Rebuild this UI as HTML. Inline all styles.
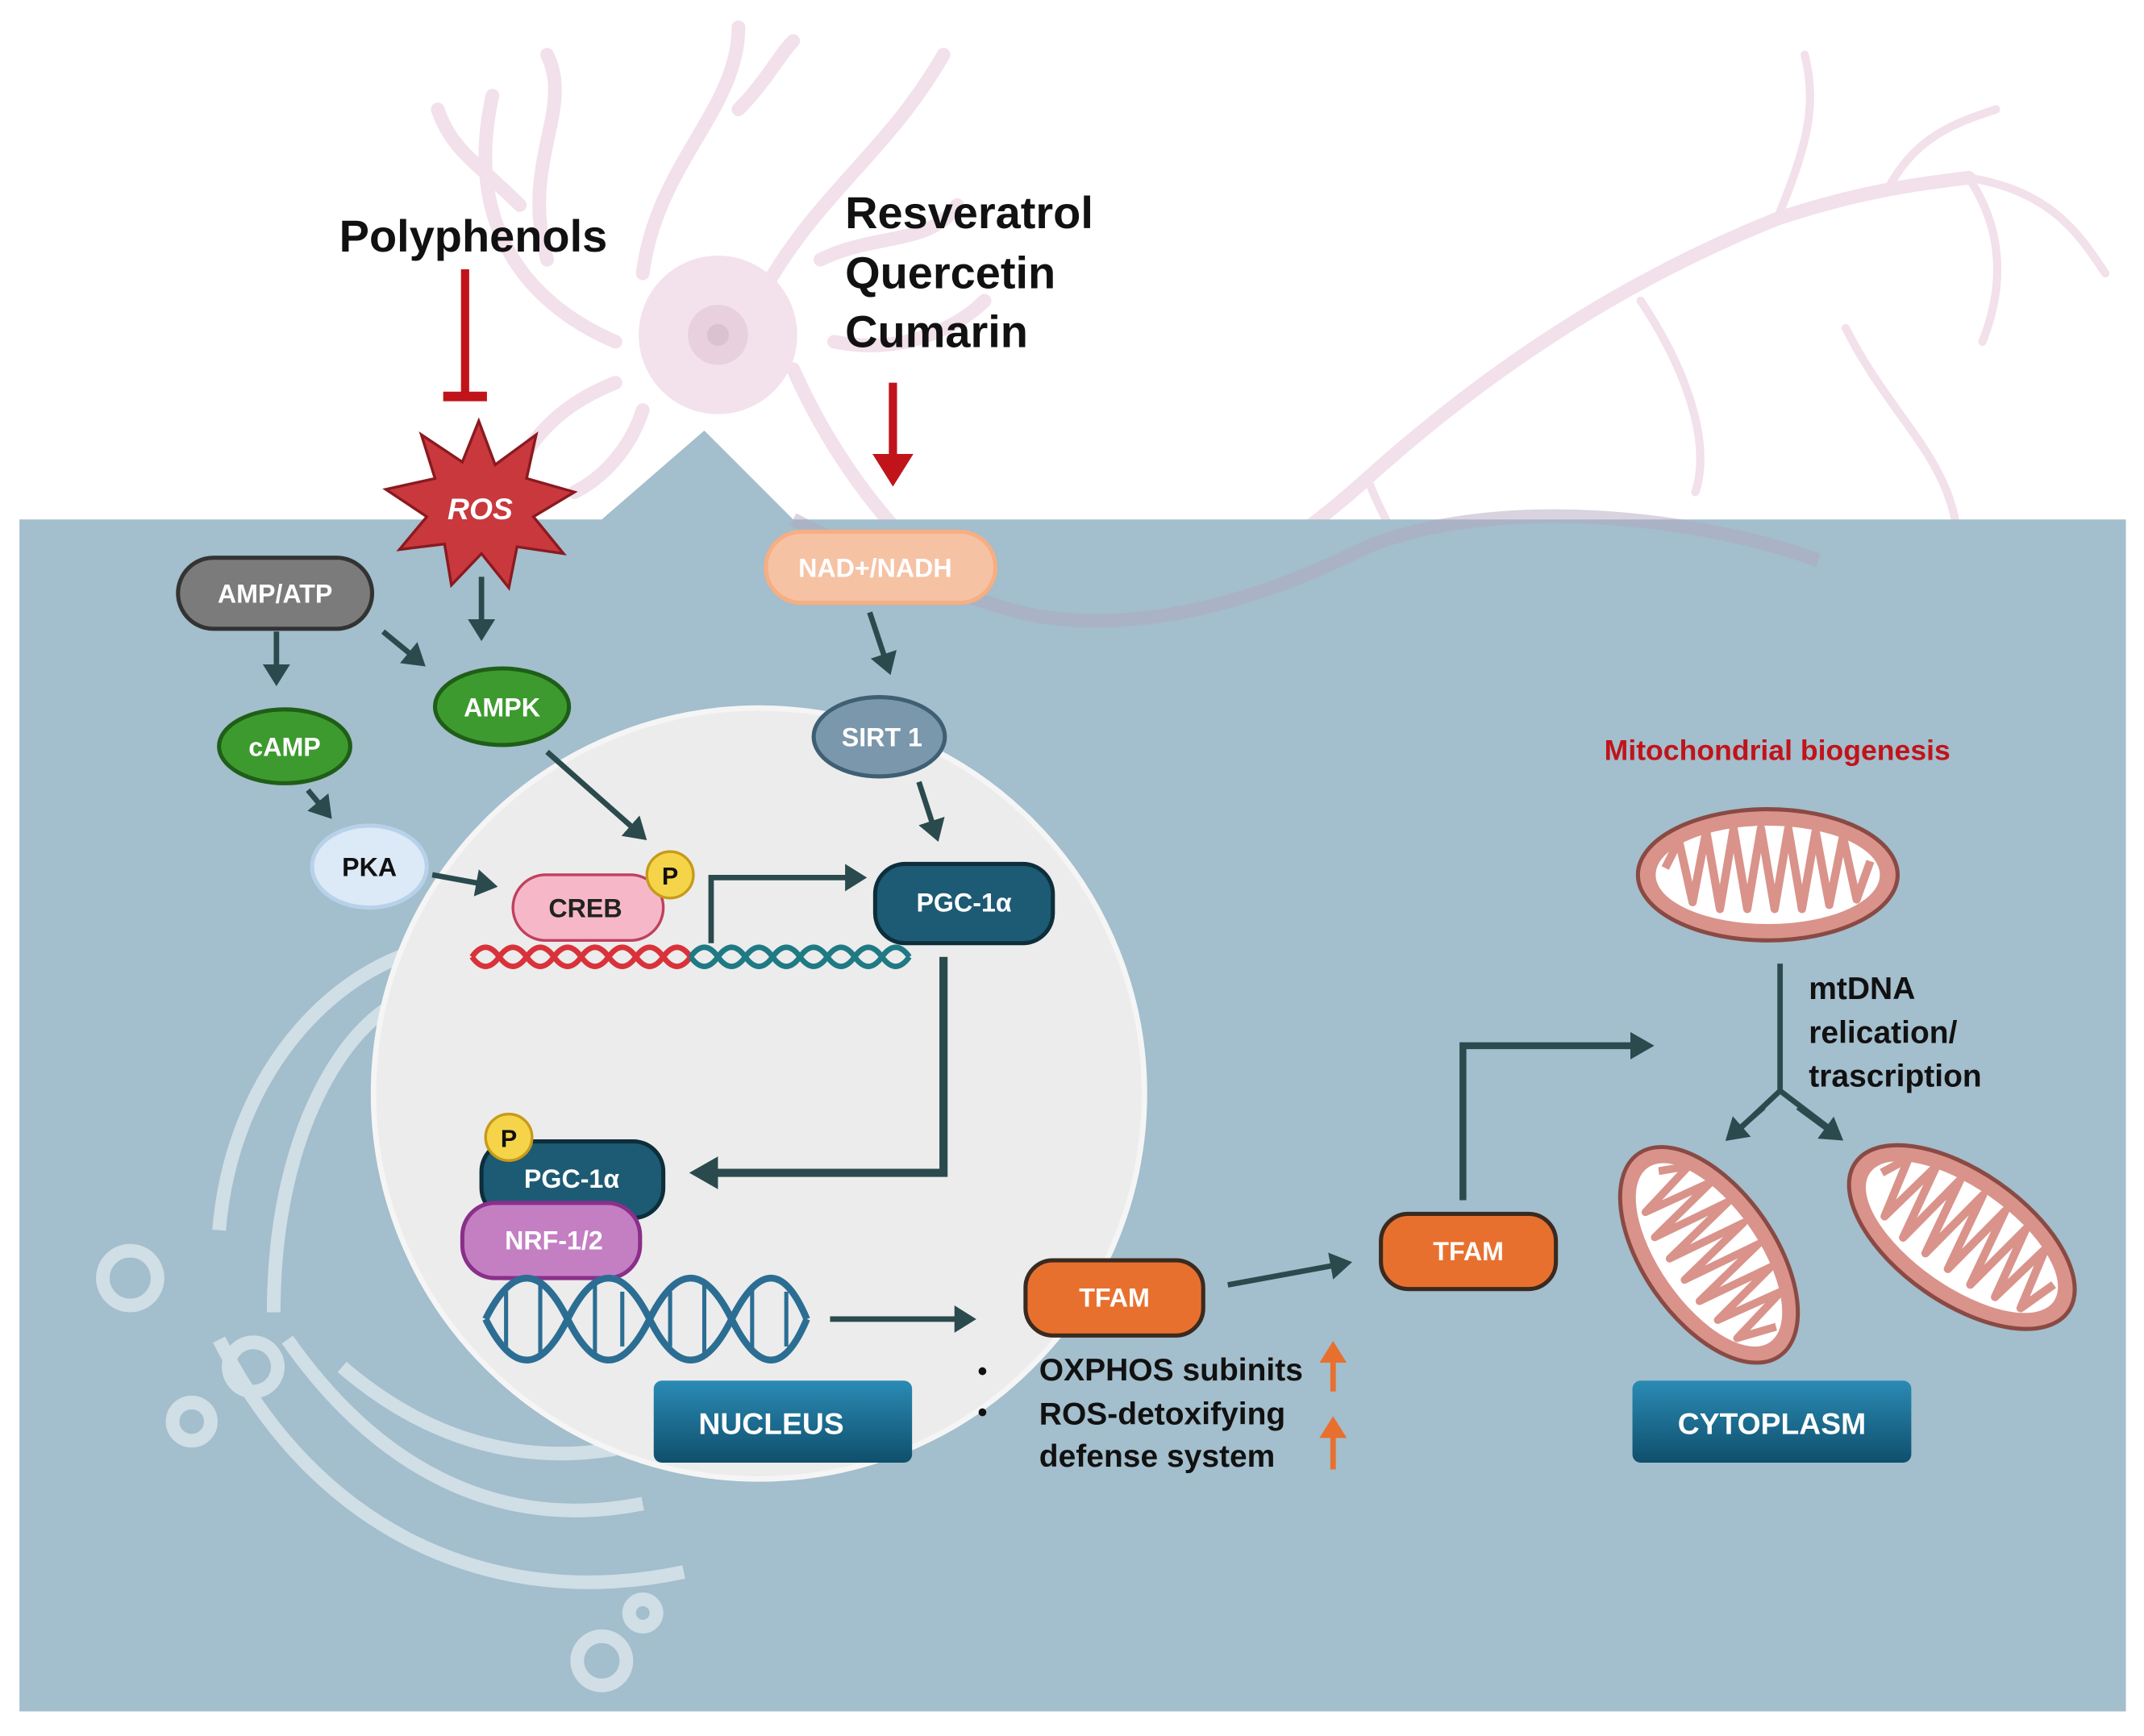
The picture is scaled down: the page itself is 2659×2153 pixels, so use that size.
<!DOCTYPE html>
<html><head><meta charset="utf-8"><style>
html,body{margin:0;padding:0;background:#fff;}
svg{display:block;}
text{font-family:"Liberation Sans",Arial,sans-serif;font-weight:bold;}
</style></head><body>
<svg width="2659" height="2153" viewBox="0 0 1568 1270" xmlns="http://www.w3.org/2000/svg">
<defs>
<marker id="ah" markerWidth="5" markerHeight="5" refX="3" refY="2.5" orient="auto" markerUnits="strokeWidth"><path d="M0,0 L4,2.5 L0,5 Z" fill="#2b4a4d"/></marker>
<marker id="ah2" markerWidth="4" markerHeight="4" refX="2.5" refY="2" orient="auto" markerUnits="strokeWidth"><path d="M0,0 L3.5,2 L0,4 Z" fill="#2b4a4d"/></marker>
<marker id="ahr" markerWidth="5" markerHeight="5" refX="3" refY="2.5" orient="auto" markerUnits="strokeWidth"><path d="M0,0 L4,2.5 L0,5 Z" fill="#c0141a"/></marker>
<marker id="aho" markerWidth="5" markerHeight="5" refX="3" refY="2.5" orient="auto" markerUnits="strokeWidth"><path d="M0,0 L4,2.5 L0,5 Z" fill="#e8702e"/></marker>
<linearGradient id="btn" x1="0" y1="0" x2="0" y2="1"><stop offset="0" stop-color="#2a8bb5"/><stop offset="1" stop-color="#0f4f6c"/></linearGradient>
<g id="mito">
<ellipse cx="0" cy="0" rx="95" ry="48" fill="#d9938a" stroke="#8a4a44" stroke-width="3"/>
<ellipse cx="0" cy="0" rx="82" ry="36" fill="#fff"/>
<path d="M-75,-5 L-65,-25 L-55,20 L-45,-32 L-35,25 L-25,-34 L-15,25 L-5,-34 L5,25 L15,-34 L25,25 L35,-32 L45,22 L55,-28 L65,18 L75,-10" stroke="#d9938a" stroke-width="6" fill="none" stroke-linejoin="round"/>
</g>
</defs>
<rect width="1568" height="1270" fill="#fff"/>
<!-- neuron -->
<g stroke="#f2e0ea" fill="none" stroke-linecap="round">
<path d="M450,250 C380,220 340,160 360,70 M400,190 C380,120 420,80 400,40 M470,200 C480,120 540,80 540,20 M560,210 C600,140 650,110 690,40 M600,190 C640,170 680,180 700,150 M610,250 C660,260 700,240 720,220 M450,280 C400,300 380,330 360,380 M470,300 C460,330 440,350 420,360 M380,150 C350,120 330,110 320,80 M540,80 C560,60 570,40 580,30" stroke-width="10"/>
<path d="M580,270 C620,360 680,420 720,440 C800,480 900,440 1000,350 C1100,260 1200,200 1300,160 C1360,140 1400,135 1440,130" stroke-width="10"/>
<path d="M1300,160 C1320,110 1330,80 1320,40 M1380,140 C1400,100 1430,90 1460,80 M1440,130 C1460,160 1470,200 1450,250 M1440,130 C1500,140 1520,170 1540,200 M1200,220 C1240,280 1250,330 1240,360 M1350,240 C1380,300 1420,330 1430,380 M1000,350 C1020,400 1040,420 1050,450" stroke-width="6"/>
</g>
<circle cx="525" cy="245" r="58" fill="#f3e2ec"/>
<circle cx="525" cy="245" r="22" fill="#e8d0de"/>
<circle cx="525" cy="245" r="8" fill="#dcc2d1"/>
<!-- panel -->
<path d="M14,380 L440,380 L515,315 L580,380 L1555,380 L1555,1252 L14,1252 Z" fill="#a3becc"/>
<path d="M580,380 C620,400 680,430 720,440 C800,470 900,450 1000,400 C1100,360 1250,380 1330,410" stroke="#b2a8bd" stroke-width="10" fill="none" opacity="0.5"/>
<!-- ER -->
<g stroke="#dce6ec" stroke-width="10" fill="none" opacity="0.8">
<path d="M160,900 C170,780 250,700 330,690"/>
<path d="M200,960 C200,820 260,740 300,730"/>
<path d="M160,980 C230,1120 360,1180 500,1150"/>
<path d="M210,980 C280,1080 370,1120 470,1100"/>
<path d="M250,1000 C320,1060 390,1070 450,1060"/>
<circle cx="95" cy="935" r="20"/><circle cx="185" cy="1000" r="18"/><circle cx="140" cy="1040" r="14"/><circle cx="440" cy="1215" r="18"/><circle cx="470" cy="1180" r="10"/>
</g>
<!-- nucleus -->
<circle cx="555" cy="800" r="282" fill="#ececec" stroke="#f5f5f5" stroke-width="4"/>
<!-- texts top -->
<text x="346" y="184" font-size="33" text-anchor="middle" fill="#111">Polyphenols</text>
<text x="618" y="167" font-size="33" fill="#111">Resveratrol</text>
<text x="618" y="211" font-size="33" fill="#111">Quercetin</text>
<text x="618" y="254" font-size="33" fill="#111">Cumarin</text>
<path d="M340,197 L340,288" stroke="#c0141a" stroke-width="6"/>
<path d="M324,290 L356,290" stroke="#c0141a" stroke-width="7"/>
<path d="M653,280 L653,350" stroke="#c0141a" stroke-width="6" marker-end="url(#ahr)"/>
<!-- ROS -->
<polygon points="350,308 362,340 392,318 385,350 420,360 390,378 412,405 378,400 372,430 352,405 330,428 325,398 292,402 312,378 282,358 318,350 308,318 338,338" fill="#c8383d" stroke="#8a1a20" stroke-width="2"/>
<text x="351" y="380" font-size="22" font-style="italic" font-weight="normal" fill="#fff" text-anchor="middle">ROS</text>
<!-- arrows -->
<g stroke="#2b4a4d" stroke-width="4" fill="none">
<path d="M202,462 L202,498" marker-end="url(#ah)"/>
<path d="M280,462 L308,485" marker-end="url(#ah)"/>
<path d="M352,422 L352,465" marker-end="url(#ah)"/>
<path d="M225,578 L240,596" marker-end="url(#ah)"/>
<path d="M316,640 L360,648" marker-end="url(#ah)"/>
<path d="M400,550 L470,612" marker-end="url(#ah)"/>
<path d="M636,448 L650,490" marker-end="url(#ah)"/>
<path d="M672,572 L685,612" marker-end="url(#ah)"/>
<path d="M520,690 L520,642 L630,642" marker-end="url(#ah)"/>
<path d="M690,700 L690,858 L510,858" stroke-width="6" marker-end="url(#ah2)"/>
<path d="M607,965 L710,965" marker-end="url(#ah)"/>
<path d="M898,940 L985,924" marker-end="url(#ah)"/>
<path d="M1070,878 L1070,765 L1205,765" stroke-width="5" marker-end="url(#ah2)"/>
<path d="M1302,705 L1302,798 M1302,798 L1268,830 M1302,798 L1344,830" stroke-width="4"/>
<path d="M1290,810 L1265,832" marker-end="url(#ah)"/>
<path d="M1315,810 L1345,832" marker-end="url(#ah)"/>
</g>
<!-- nodes -->
<rect x="130" y="408" width="142" height="52" rx="26" fill="#7b7b7b" stroke="#333" stroke-width="3"/>
<text x="201" y="441" font-size="19" fill="#fff" text-anchor="middle">AMP/ATP</text>
<rect x="560" y="389" width="168" height="52" rx="26" fill="#f6c2a4" stroke="#f7ae82" stroke-width="3"/>
<text x="640" y="422" font-size="19" fill="#fff" text-anchor="middle">NAD+/NADH</text>
<ellipse cx="367" cy="517" rx="49" ry="28" fill="#3d9a2f" stroke="#1f5e18" stroke-width="3"/>
<text x="367" y="524" font-size="19" fill="#fff" text-anchor="middle">AMPK</text>
<ellipse cx="208" cy="546" rx="48" ry="27" fill="#3d9a2f" stroke="#1f5e18" stroke-width="3"/>
<text x="208" y="553" font-size="19" fill="#fff" text-anchor="middle">cAMP</text>
<ellipse cx="270" cy="634" rx="42" ry="30" fill="#dce9f6" stroke="#b8d1ea" stroke-width="3"/>
<text x="270" y="641" font-size="19" fill="#111" text-anchor="middle">PKA</text>
<ellipse cx="643" cy="539" rx="48" ry="29" fill="#7b97ab" stroke="#3e5f74" stroke-width="3"/>
<text x="645" y="546" font-size="19" fill="#fff" text-anchor="middle">SIRT 1</text>
<!-- DNA top -->
<g fill="none" stroke-width="4">
<path d="M345,700 q10,-14 20,0 t20,0 t20,0 t20,0 t20,0 t20,0 t20,0 t20,0" stroke="#d9323a"/>
<path d="M345,700 q10,14 20,0 t20,0 t20,0 t20,0 t20,0 t20,0 t20,0 t20,0" stroke="#d9323a"/>
<path d="M505,700 q10,-14 20,0 t20,0 t20,0 t20,0 t20,0 t20,0 t20,0 t20,0" stroke="#1f7a84"/>
<path d="M505,700 q10,14 20,0 t20,0 t20,0 t20,0 t20,0 t20,0 t20,0 t20,0" stroke="#1f7a84"/>
</g>
<rect x="375" y="640" width="110" height="48" rx="24" fill="#f6b8c8" stroke="#c0405e" stroke-width="2"/>
<text x="428" y="671" font-size="19" font-weight="normal" fill="#222" text-anchor="middle">CREB</text>
<circle cx="490" cy="640" r="17" fill="#f6d44a" stroke="#c79a1a" stroke-width="2"/>
<text x="490" y="647" font-size="18" fill="#111" text-anchor="middle">P</text>
<rect x="640" y="632" width="130" height="58" rx="22" fill="#1d5a74" stroke="#0d2e3b" stroke-width="3"/>
<text x="705" y="667" font-size="19" fill="#fff" text-anchor="middle">PGC-1α</text>
<rect x="352" y="835" width="133" height="56" rx="22" fill="#1d5a74" stroke="#0d2e3b" stroke-width="3"/>
<text x="418" y="869" font-size="19" fill="#fff" text-anchor="middle">PGC-1α</text>
<circle cx="372" cy="832" r="17" fill="#f6d44a" stroke="#c79a1a" stroke-width="2"/>
<text x="372" y="839" font-size="18" fill="#111" text-anchor="middle">P</text>
<rect x="338" y="880" width="130" height="55" rx="24" fill="#c47fc2" stroke="#8a2f8a" stroke-width="3"/>
<text x="405" y="914" font-size="19" fill="#fff" text-anchor="middle">NRF-1/2</text>
<!-- DNA lower -->
<g fill="none" stroke="#2c6e93" stroke-width="5">
<path d="M355,965 q30,-60 60,0 t60,0 t60,0 t55,0"/>
<path d="M355,965 q30,60 60,0 t60,0 t60,0 t55,0"/>
<path d="M370,945 L370,985 M395,940 L395,990 M435,940 L435,990 M455,945 L455,985 M490,945 L490,985 M515,940 L515,990 M550,940 L550,990 M575,945 L575,985" stroke-width="3"/>
</g>
<rect x="478" y="1010" width="189" height="60" rx="6" fill="url(#btn)"/>
<text x="564" y="1049" font-size="22" fill="#fff" text-anchor="middle">NUCLEUS</text>
<rect x="1194" y="1010" width="204" height="60" rx="6" fill="url(#btn)"/>
<text x="1296" y="1049" font-size="22" fill="#fff" text-anchor="middle">CYTOPLASM</text>
<rect x="750" y="922" width="130" height="55" rx="20" fill="#e8702e" stroke="#3a2a20" stroke-width="3"/>
<text x="815" y="956" font-size="19" fill="#fff" text-anchor="middle">TFAM</text>
<rect x="1010" y="888" width="128" height="55" rx="20" fill="#e8702e" stroke="#3a2a20" stroke-width="3"/>
<text x="1074" y="922" font-size="19" fill="#fff" text-anchor="middle">TFAM</text>
<text x="715" y="1010" font-size="20" fill="#111">•</text>
<text x="715" y="1040" font-size="20" fill="#111">•</text>
<text x="760" y="1010" font-size="23" fill="#111">OXPHOS subinits</text>
<text x="760" y="1042" font-size="23" fill="#111">ROS-detoxifying</text>
<text x="760" y="1073" font-size="23" fill="#111">defense system</text>
<path d="M975,1018 L975,985" stroke="#e8702e" stroke-width="4" marker-end="url(#aho)"/>
<path d="M975,1075 L975,1040" stroke="#e8702e" stroke-width="4" marker-end="url(#aho)"/>
<!-- mito -->
<text x="1300" y="556" font-size="21" fill="#c0141a" text-anchor="middle">Mitochondrial biogenesis</text>
<use href="#mito" transform="translate(1293,640)"/>
<use href="#mito" transform="translate(1250,918) rotate(55) scale(0.95,1)"/>
<use href="#mito" transform="translate(1435,905) rotate(35) scale(1,1)"/>
<text x="1323" y="731" font-size="23" fill="#111">mtDNA</text>
<text x="1323" y="763" font-size="23" fill="#111">relication/</text>
<text x="1323" y="795" font-size="23" fill="#111">trascription</text>
</svg>
</body></html>
